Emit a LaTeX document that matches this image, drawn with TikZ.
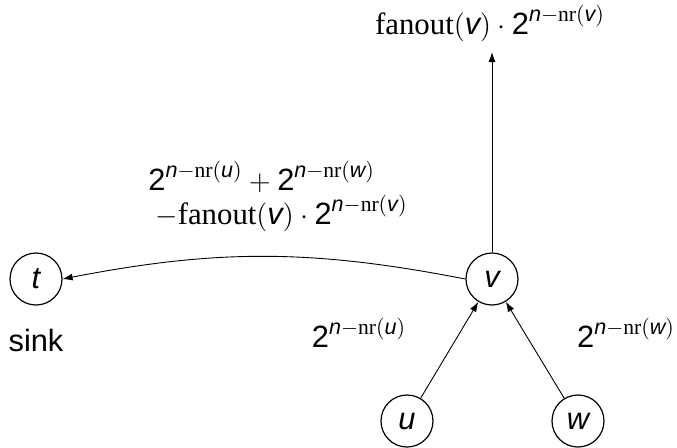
\documentclass[tikz,border=0pt]{standalone}
\usepackage{amsmath}
\usepackage{fontspec}
\setmainfont{Liberation Serif}
\setsansfont{Liberation Sans}
\usetikzlibrary{arrows.meta}
\newcommand\vr[1]{\text{\sffamily\itshape #1}}
\newcommand\tw{\text{\sffamily 2}}
\newcommand\pw[1]{\tw^{\vr{n}-\mathrm{nr}(\vr{#1})}}
\begin{document}
\begin{tikzpicture}[x=0.5pt,y=-0.5pt, font=\fontsize{15.4}{18}\selectfont,
  vtx/.style={circle,draw,line width=0.6pt,minimum size=26pt,inner sep=0pt},
  arr/.style={-{Latex[length=5pt,width=3.5pt]},line width=0.45pt},
  lbl/.style={inner sep=0pt}]
\useasboundingbox (0,0) rectangle (677,447);
\node[vtx] (t) at (36,279) {\vr{t}};
\node[vtx] (v) at (492,279) {\vr{v}};
\node[vtx] (u) at (407,421) {\vr{u}};
\node[vtx] (w) at (578,421) {\vr{w}};
\coordinate (top) at (492,52);
\draw[arr] (v) -- (top);
\draw[arr] (v.west) to[bend right=11] (t.east);
\draw[arr] (u) -- (v);
\draw[arr] (w) -- (v);
\node[lbl] (ltop) at (490,23) {$\mathrm{fanout}(\vr{v})\cdot\pw{v}$};
\node[lbl,anchor=west] (l1) at (148,177) {$\pw{u}+\pw{w}$};
\node[lbl,anchor=west] (l2) at (155,213) {$-\mathrm{fanout}(\vr{v})\cdot\pw{v}$};
\node[lbl] (lu) at (359,333) {$\pw{u}$};
\node[lbl] (lw) at (626,333) {$\pw{w}$};
\node[lbl] (sink) at (36,340) {\sffamily sink};
\end{tikzpicture}
\end{document}
